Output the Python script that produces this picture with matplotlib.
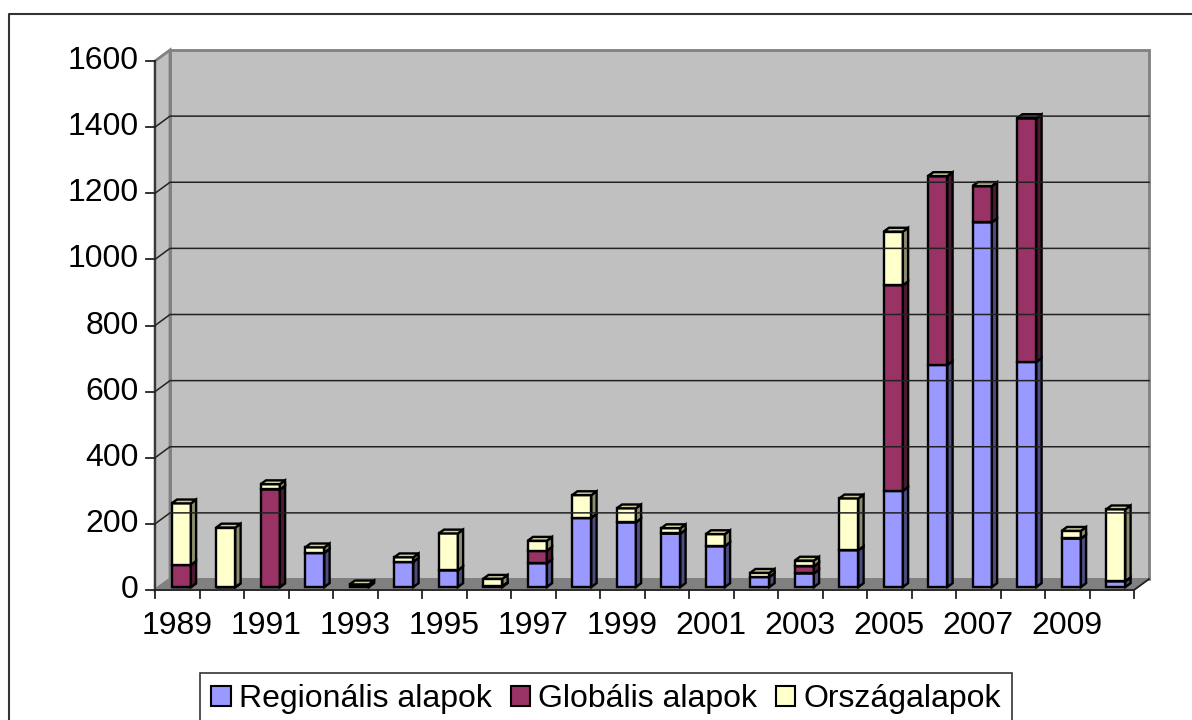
import matplotlib
matplotlib.use('Agg')
import matplotlib.pyplot as plt
from matplotlib.patches import Polygon, Patch
from matplotlib.lines import Line2D
from matplotlib.transforms import ScaledTranslation, IdentityTransform

# ---------------- data ----------------
years = list(range(1989, 2011))
regionalis = [0, 0, 0, 104, 5, 77, 51, 3, 72, 210, 196, 162, 124, 31, 41, 112, 291, 672, 1103, 681, 147, 18]
globalis = [67, 0, 295, 0, 0, 0, 0, 0, 38, 0, 0, 0, 0, 0, 22, 0, 622, 571, 110, 737, 0, 0]
orszag = [186, 180, 16, 16, 3, 13, 111, 22, 30, 68, 42, 16, 36, 12, 17, 156, 162, 0, 0, 0, 23, 217]
series_names = ['Regionális alapok', 'Globális alapok', 'Országalapok']
yticks = [0, 200, 400, 600, 800, 1000, 1200, 1400, 1600]
xlabels = [str(y) if (y - 1989) % 2 == 0 else '' for y in years]

front_colors = ['#9999FF', '#993366', '#FFFFCC']
side_colors = ['#4D4D80', '#4D1A33', '#8C8C70']
top_colors = ['#7A7ACC', '#7A2952', '#CCCCA3']

plt.rcParams['font.family'] = ['Liberation Sans', 'DejaVu Sans']

DPI = 100
W, H = 1192, 720
fig = plt.figure(figsize=(W / DPI, H / DPI), dpi=DPI)
fig.patch.set_facecolor('white')
ax = fig.add_axes([155 / W, (H - 590) / H, (1134 - 155) / W, (590 - 61) / H])
ax.set_autoscale_on(False)
n = len(years)
ax.set_xlim(0, n)
ax.set_ylim(0, yticks[-1])
ax.axis('off')

DX, DY = 15, 11  # wall depth in pixels
IT = IdentityTransform()
FS = 23


def pt(x, y, d=0.0):
    X, Y = ax.transData.transform((x, y))
    return (X + d * DX, Y + d * DY)


def poly(pts, **kw):
    p = Polygon(pts, closed=True, transform=IT, clip_on=False, **kw)
    ax.add_patch(p)
    return p


def line(pts, **kw):
    xs = [p[0] for p in pts]
    ys = [p[1] for p in pts]
    l = Line2D(xs, ys, transform=IT, clip_on=False, **kw)
    ax.add_line(l)
    return l


ymax = yticks[-1]
# walls
poly([pt(0, 0, 1), pt(n, 0, 1), pt(n, ymax, 1), pt(0, ymax, 1)], fc='#C0C0C0', ec='#808080', lw=2)
poly([pt(0, 0, 0), pt(0, 0, 1), pt(0, ymax, 1), pt(0, ymax, 0)], fc='#C0C0C0', ec='#808080', lw=2)
poly([pt(0, 0, 0), pt(n, 0, 0), pt(n, 0, 1), pt(0, 0, 1)], fc='#808080', ec='#808080', lw=1)

# gridlines
for v in yticks[1:-1]:
    line([pt(0, v, 0), pt(0, v, 1), pt(n, v, 1)], color='#222222', lw=1.1)

# axes lines
line([pt(0, 0), pt(0, ymax)], color='#333333', lw=1.3)
line([pt(0, 0), pt(n, 0), pt(n, 0, 1)], color='#222222', lw=1.3)
for v in yticks:
    X, Y = pt(0, v)
    line([(X - 9, Y), (X, Y)], color='#222222', lw=1.3)
    ax.text(X - 16, Y, str(v), transform=IT, ha='right', va='center', fontsize=FS, color='black')
for i in range(n + 1):
    X, Y = pt(i, 0)
    line([(X, Y), (X, Y - 8)], color='#222222', lw=1.3)
for i, lab in enumerate(xlabels):
    if lab:
        X, Y = pt(i + 0.5, 0)
        ax.text(X, Y - 36, lab, transform=IT, ha='center', va='center', fontsize=FS, color='black')

# bars
f0, f1 = 0.27, 0.62
bw = 0.43
front_tr = ax.transData + ScaledTranslation(f0 * DX / DPI, f0 * DY / DPI, fig.dpi_scale_trans)
series = [regionalis, globalis, orszag]
for i in range(n):
    bottom = 0
    xc = i + 0.5
    x0, x1 = xc - bw / 2, xc + bw / 2
    for k, vals in enumerate(series):
        v = vals[i]
        y0, y1 = bottom, bottom + v
        ax.bar(xc, v, bottom=y0, width=bw, color=front_colors[k], edgecolor='black',
               linewidth=1.7, transform=front_tr, clip_on=False, joinstyle='miter')
        poly([pt(x1, y0, f0), pt(x1, y0, f1), pt(x1, y1, f1), pt(x1, y1, f0)],
             fc=side_colors[k], ec='black', lw=1.7, joinstyle='miter')
        poly([pt(x0, y1, f0), pt(x1, y1, f0), pt(x1, y1, f1), pt(x0, y1, f1)],
             fc=top_colors[k], ec='black', lw=1.7, joinstyle='miter')
        bottom = y1

# legend
handles = [Patch(facecolor=front_colors[k], edgecolor='black', linewidth=1.5, label=series_names[k])
           for k in range(3)]
leg = fig.legend(handles=handles, loc='center', bbox_to_anchor=(606 / W, (H - 699) / H), ncol=3,
                 frameon=True, fancybox=False, edgecolor='black', fontsize=FS,
                 handlelength=0.6, handleheight=0.6, handletextpad=0.25, columnspacing=0.6,
                 borderpad=0.35, borderaxespad=0)
leg.get_frame().set_linewidth(1.2)

# outer frame (left and top visible)
fig.add_artist(Line2D([9 / W, 9 / W, 1.0], [0, (H - 14) / H, (H - 14) / H],
                      transform=fig.transFigure, color='#333333', lw=1.5))

fig.savefig('out.png', dpi=DPI)
